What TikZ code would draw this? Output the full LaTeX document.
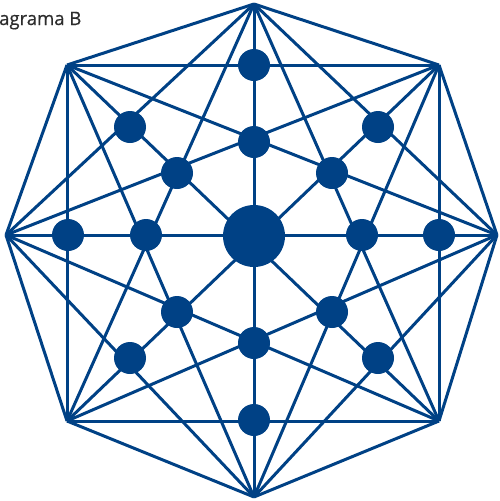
\documentclass[tikz,border=0pt]{standalone}
\usepackage{fontspec}
\setmainfont{Open Sans}
\newfontfamily\titlefont[FakeBold=0.5]{Open Sans}
\usetikzlibrary{calc}
\definecolor{dblue}{RGB}{0,65,133}
\definecolor{tgray}{RGB}{45,45,45}
\begin{document}
\begin{tikzpicture}[x=1pt,y=-1pt,
  edge/.style={draw=dblue,line width=3pt,line join=miter},
  dot/.style={circle,fill=dblue,inner sep=0pt,minimum size=32pt},
  bigdot/.style={circle,fill=dblue,inner sep=0pt,minimum size=62pt}]
\useasboundingbox (0,0) rectangle (500,501);
\coordinate (v0) at (254,4);
\coordinate (v1) at (439,65);
\coordinate (v2) at (497,235);
\coordinate (v3) at (439,421);
\coordinate (v4) at (254,497);
\coordinate (v5) at (67,421);
\coordinate (v6) at (6,235);
\coordinate (v7) at (67,65);
\foreach \i in {0,...,7}{
  \foreach \j in {0,...,7}{
    \ifnum\i<\j \draw[edge] (v\i) -- (v\j); \fi
  }
}
\node[bigdot] (c) at (254,236) {};
\node[dot] (o0) at (254,65) {};
\node[dot] (o1) at (378,127) {};
\node[dot] (o2) at (439,235) {};
\node[dot] (o3) at (378,358) {};
\node[dot] (o4) at (254,420) {};
\node[dot] (o5) at (130,358) {};
\node[dot] (o6) at (68,235) {};
\node[dot] (o7) at (130,127) {};
\node[dot] (i0) at (254,142) {};
\node[dot] (i1) at (332,173) {};
\node[dot] (i2) at (362,235) {};
\node[dot] (i3) at (332,312) {};
\node[dot] (i4) at (254,343) {};
\node[dot] (i5) at (177,312) {};
\node[dot] (i6) at (146,235) {};
\node[dot] (i7) at (177,173) {};
\node[anchor=base west,inner sep=0pt,text=tgray,font=\titlefont\fontsize{18.5}{22}\selectfont] (title) at (-1,25) {agrama B};
\end{tikzpicture}
\end{document}
